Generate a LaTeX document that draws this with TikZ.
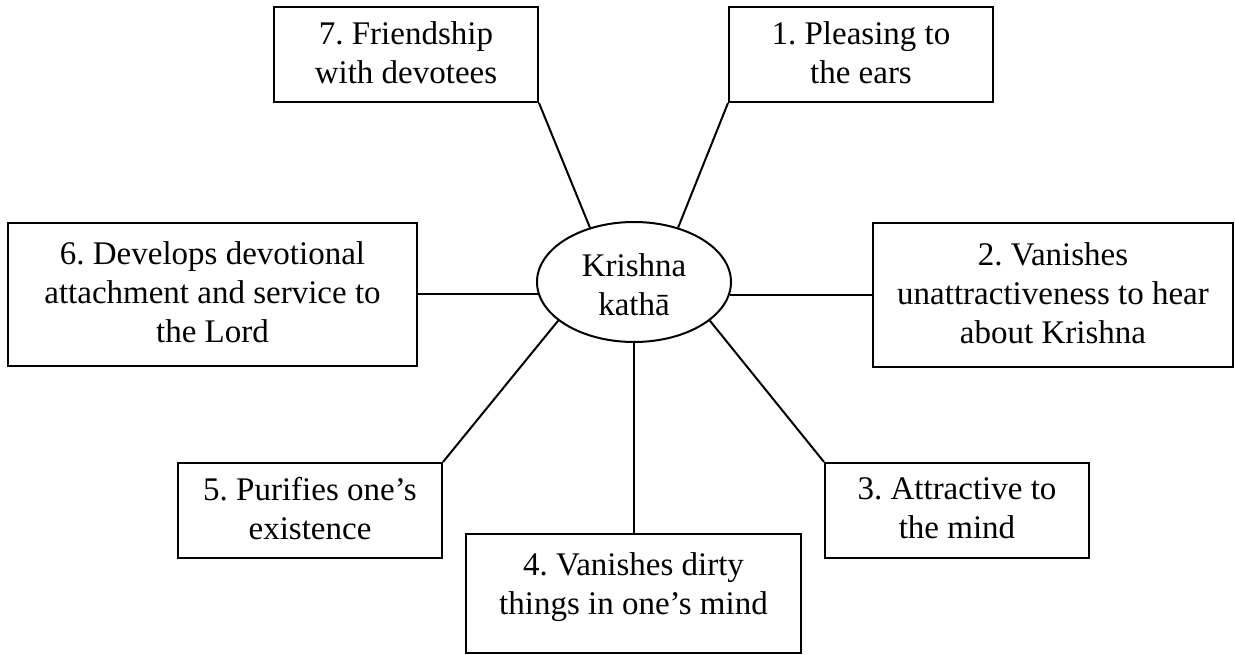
\documentclass[tikz,border=0pt]{standalone}
\usepackage{fontspec}
\setmainfont{Liberation Serif}
\usetikzlibrary{shapes.geometric}

\tikzset{
  box/.style={draw, line width=2pt, inner sep=0pt, align=center,
    text depth=4pt, font=\fontsize{33}{39}\selectfont},
  hub/.style={draw, ellipse, line width=2pt, inner sep=0pt, align=center,
    minimum width=194pt, minimum height=120pt, text height=68pt,
    font=\fontsize{33}{39}\selectfont},
  spoke/.style={line width=2pt}
}

\begin{document}
\frenchspacing
\begin{tikzpicture}[x=1pt,y=-1pt]
\useasboundingbox (0,0) rectangle (1235,655);

% central topic
\node[hub] (k) at (634,282) {Krishna\\kathā};

% surrounding boxes
\node[box, minimum width=264pt, minimum height=95pt] (b7) at (406,54.5)
  {7. Friendship\\with devotees};
\node[box, minimum width=264pt, minimum height=95pt] (b1) at (861,54.5)
  {1. Pleasing to\\the ears};
\node[box, minimum width=409pt, minimum height=143pt] (b6) at (212.5,294.5)
  {6. Develops devotional\\attachment and service to\\the Lord};
\node[box, minimum width=360pt, minimum height=144pt] (b2) at (1053,295)
  {2. Vanishes\\unattractiveness to hear\\about Krishna};
\node[box, minimum width=264pt, minimum height=95pt] (b5) at (310,510.5)
  {5. Purifies one’s\\existence};
\node[box, minimum width=264pt, minimum height=95pt] (b3) at (957,510.5)
  {3. Attractive to\\the mind};
\node[box, minimum width=335pt, minimum height=119pt, text depth=20pt] (b4) at (633.5,593.5)
  {4. Vanishes dirty\\things in one’s mind};

% spokes
\draw[spoke] (b7.south east) -- (k.129);
\draw[spoke] (b1.south west) -- (k.51);
\draw[spoke] (b6.east) -- (b6.east -| k.187.8);
\draw[spoke] (b2.west) -- (b2.west -| k.-7.8);
\draw[spoke] (b5.north east) -- (k.207);
\draw[spoke] (b3.north west) -- (k.333);
\draw[spoke] (k.south) -- (k.south |- b4.north);
\end{tikzpicture}
\end{document}
